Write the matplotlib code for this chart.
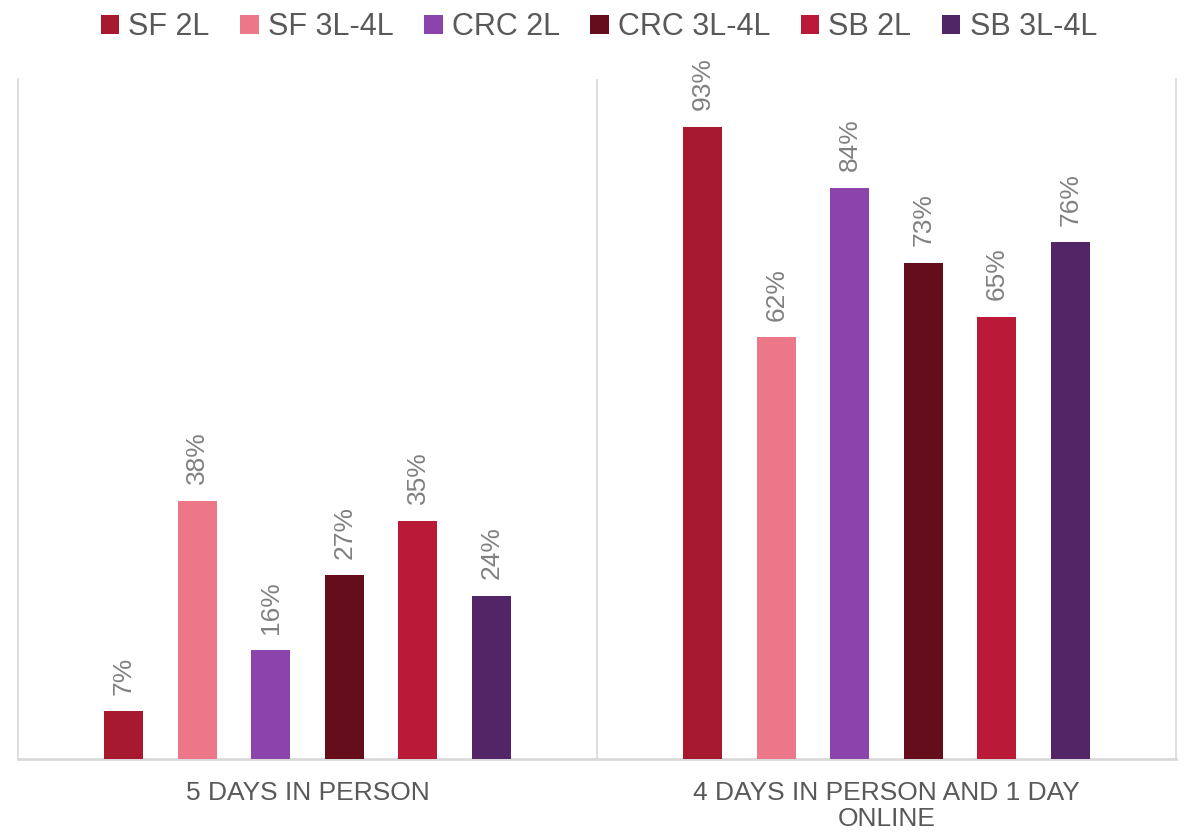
import numpy as np
import matplotlib.pyplot as plt

plt.rcParams['font.family'] = ['Liberation Sans', 'DejaVu Sans']

categories = ['5 DAYS IN PERSON', '4 DAYS IN PERSON AND 1 DAY\nONLINE']
series = ['SF 2L', 'SF 3L-4L', 'CRC 2L', 'CRC 3L-4L', 'SB 2L', 'SB 3L-4L']
values = [
    [7, 93],
    [38, 62],
    [16, 84],
    [27, 73],
    [35, 65],
    [24, 76],
]
colors = ['#A6192E', '#EB7789', '#8B44AC', '#650D1B', '#BA1A37', '#522566']

fig = plt.figure(figsize=(11.86, 8.36), dpi=100)
ax = fig.add_axes([0.0152, 0.0921, 0.9764, 0.8134])

x = np.arange(len(categories))
step = 0.127
width = 0.067
for i, (name, vals) in enumerate(zip(series, values)):
    pos = x + (i - 2.5) * step
    bars = ax.bar(pos, vals, width, color=colors[i], label=name, zorder=3)
    for b, v in zip(bars, vals):
        ax.annotate(f'{v}%', (b.get_x() + b.get_width() / 2, v),
                    xytext=(0, 12), textcoords='offset points',
                    rotation=90, ha='center', va='bottom',
                    fontsize=19, color='#808080')

ax.set_xlim(-0.5, 1.5)
ax.set_ylim(0, 100)
ax.set_yticks([])
ax.set_xticks([])
ax.axvline(0.5, color='#d9d9d9', lw=1.2)
for s in ['left', 'right']:
    ax.spines[s].set_color('#d9d9d9')
    ax.spines[s].set_linewidth(1.2)
ax.spines['top'].set_visible(False)
ax.spines['bottom'].set_color('#d9d9d9')
ax.spines['bottom'].set_linewidth(2)

for xi, cat in zip(x, categories):
    ax.text(xi, -3.3, cat, ha='center', va='top', fontsize=19,
            color='#595959', transform=ax.transData, linespacing=1.1)

fig.legend(loc='upper center', bbox_to_anchor=(0.505, 1.018), ncol=6,
           frameon=False, fontsize=22, labelcolor='#595959',
           handlelength=0.6, handleheight=0.6, handletextpad=0.3,
           columnspacing=1.0)

fig.savefig('out.png', dpi=100)
